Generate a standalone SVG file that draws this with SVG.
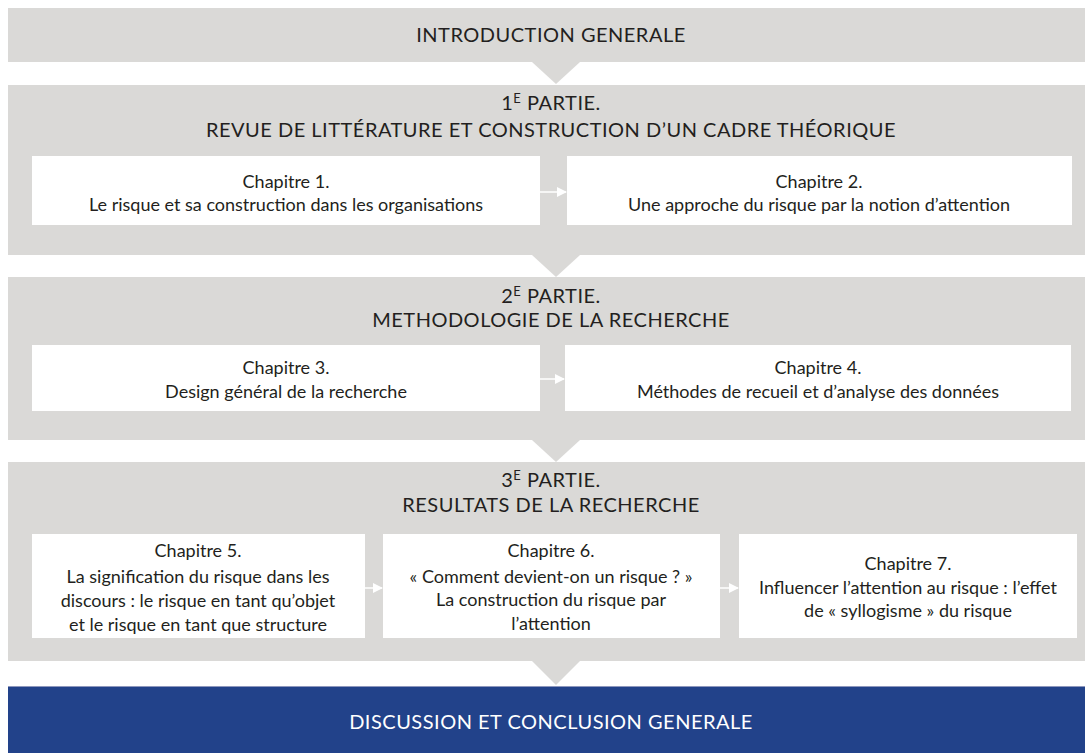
<svg xmlns="http://www.w3.org/2000/svg" width="1085" height="753" viewBox="0 0 1085 753">
<style>
.band{fill:#dad9d7}
.box{fill:#ffffff}
.t{font-family:Lato,"Open Sans","Liberation Sans",sans-serif;font-size:18px;fill:#231f20;text-anchor:middle}
.h{font-family:Lato,"Open Sans","Liberation Sans",sans-serif;font-size:20px;fill:#231f20;text-anchor:middle;letter-spacing:0.5px}
.w{fill:#ffffff}
.sup{font-size:13px}
.arr{stroke:#ffffff;stroke-width:1.5;fill:none}
</style>
<defs>
<marker id="ah" markerWidth="10" markerHeight="10" refX="9" refY="5" orient="auto" markerUnits="userSpaceOnUse">
<path d="M0,0 L10,5 L0,10 Z" fill="#ffffff"/>
</marker>
</defs>
<rect width="1085" height="753" fill="#ffffff"/>

<g id="intro">
<rect class="band" x="8" y="8" width="1077" height="54"/>
<text class="h" x="551" y="42">INTRODUCTION GENERALE</text>
</g>

<g id="partie1">
<rect class="band" x="8" y="85" width="1077" height="170"/>
<text class="h" x="551" y="110">1<tspan class="sup" dy="-7">E</tspan><tspan dy="7"> PARTIE.</tspan></text>
<text class="h" x="551" y="137">REVUE DE LITTÉRATURE ET CONSTRUCTION D’UN CADRE THÉORIQUE</text>
</g>

<g id="ch1">
<rect class="box" x="32" y="156" width="508" height="69"/>
<text class="t" x="286" y="188">Chapitre 1.</text>
<text class="t" x="286" y="211">Le risque et sa construction dans les organisations</text>
</g>
<g id="ch2">
<rect class="box" x="567" y="156" width="505" height="69"/>
<text class="t" x="819" y="188">Chapitre 2.</text>
<text class="t" x="819" y="211">Une approche du risque par la notion d’attention</text>
</g>

<g id="partie2">
<rect class="band" x="8" y="277" width="1077" height="163"/>
<text class="h" x="551" y="303">2<tspan class="sup" dy="-7">E</tspan><tspan dy="7"> PARTIE.</tspan></text>
<text class="h" x="551" y="327">METHODOLOGIE DE LA RECHERCHE</text>
</g>

<g id="ch3">
<rect class="box" x="32" y="345" width="508" height="66"/>
<text class="t" x="286" y="374">Chapitre 3.</text>
<text class="t" x="286" y="398">Design général de la recherche</text>
</g>
<g id="ch4">
<rect class="box" x="565" y="345" width="506" height="66"/>
<text class="t" x="818" y="374">Chapitre 4.</text>
<text class="t" x="818" y="398">Méthodes de recueil et d’analyse des données</text>
</g>

<g id="partie3">
<rect class="band" x="8" y="462" width="1077" height="199"/>
<text class="h" x="551" y="487">3<tspan class="sup" dy="-7">E</tspan><tspan dy="7"> PARTIE.</tspan></text>
<text class="h" x="551" y="512">RESULTATS DE LA RECHERCHE</text>
</g>

<g id="ch5">
<rect class="box" x="32" y="534" width="333" height="104"/>
<text class="t" x="198" y="557">Chapitre 5.</text>
<text class="t" x="198" y="583">La signification du risque dans les</text>
<text class="t" x="198" y="607">discours : le risque en tant qu’objet</text>
<text class="t" x="198" y="631">et le risque en tant que structure</text>
</g>
<g id="ch6">
<rect class="box" x="383" y="534" width="337" height="104"/>
<text class="t" x="551" y="557">Chapitre 6.</text>
<text class="t" x="551" y="583">« Comment devient-on un risque ? »</text>
<text class="t" x="551" y="606">La construction du risque par</text>
<text class="t" x="551" y="630">l’attention</text>
</g>
<g id="ch7">
<rect class="box" x="739" y="534" width="338" height="104"/>
<text class="t" x="908" y="570">Chapitre 7.</text>
<text class="t" x="908" y="594">Influencer l’attention au risque : l’effet</text>
<text class="t" x="908" y="617">de « syllogisme » du risque</text>
</g>

<g id="conclusion">
<rect x="8" y="686" width="1077" height="67" fill="#22428a"/>
<line x1="8" y1="686.5" x2="1085" y2="686.5" stroke="#8d97bd" stroke-width="1"/>
<text class="h w" x="551" y="729">DISCUSSION  ET CONCLUSION GENERALE</text>
</g>

<g id="connectors">
<polygon class="band" points="532,62 580,62 556,84"/>
<polygon class="band" points="532,255 580,255 556,277"/>
<polygon class="band" points="532,440 580,440 556,462"/>
<polygon class="band" points="532,661 580,661 556,685"/>
<line class="arr" x1="540" y1="192" x2="566" y2="192" marker-end="url(#ah)"/>
<line class="arr" x1="540" y1="379" x2="564" y2="379" marker-end="url(#ah)"/>
<line class="arr" x1="365" y1="588" x2="382" y2="588" marker-end="url(#ah)"/>
<line class="arr" x1="720" y1="588" x2="738" y2="588" marker-end="url(#ah)"/>
</g>
</svg>
